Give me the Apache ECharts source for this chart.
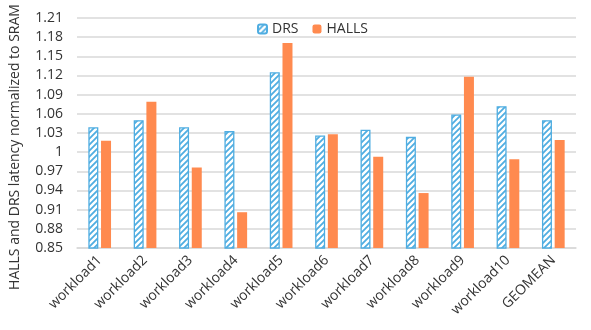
<!DOCTYPE html>
<html>
<head>
<meta charset="utf-8">
<script src="https://cdn.jsdelivr.net/npm/echarts@6/dist/echarts.min.js"></script>
<style>
  html, body { margin: 0; padding: 0; background: #fff; }
  #chart { width: 591px; height: 330px; }
</style>
</head>
<body>
<div id="chart"></div>
<script>
const categories = ['workload1', 'workload2', 'workload3', 'workload4', 'workload5', 'workload6',
  'workload7', 'workload8', 'workload9', 'workload10', 'GEOMEAN']
const drs = [1.039, 1.050, 1.039, 1.033, 1.125, 1.026, 1.035, 1.024, 1.059, 1.072, 1.050]
const halls = [1.018, 1.079, 0.976, 0.906, 1.171, 1.028, 0.993, 0.936, 1.118, 0.989, 1.019]
const yMin = 0.85
const yMax = 1.21
const yStep = 0.03

const blue = '#4FADE1'
const orange = '#FF8A4F'

// diagonal hatch for DRS bars
const makeHatch = () => {
  const c = document.createElement('canvas')
  c.width = 6
  c.height = 6
  const g = c.getContext('2d')
  g.fillStyle = '#fff'
  g.fillRect(0, 0, 6, 6)
  g.strokeStyle = blue
  g.lineWidth = 1.8
  g.beginPath()
  g.moveTo(-1, 7); g.lineTo(7, -1)
  g.moveTo(-1, 1); g.lineTo(1, -1)
  g.moveTo(5, 7); g.lineTo(7, 5)
  g.stroke()
  return c
}

const isMajor = v => Math.round((v - yMin) * 100) % Math.round(yStep * 100) === 0

const chart = echarts.init(document.getElementById('chart'))
chart.setOption({
  animation: false,
  textStyle: { fontFamily: 'Open Sans' },
  legend: {
    top: 17,
    left: 252,
    itemWidth: 9,
    itemHeight: 9,
    itemGap: 14,
    textStyle: { fontSize: 14, color: '#333' },
    data: ['DRS', 'HALLS']
  },
  grid: { left: 77, right: 15, top: 18, bottom: 82 },
  xAxis: {
    type: 'category',
    data: categories,
    axisLine: { lineStyle: { color: '#d9d9d9', width: 1.5 } },
    axisTick: { show: false },
    axisLabel: { rotate: 45, fontSize: 14, color: '#333', margin: 10 }
  },
  yAxis: {
    type: 'value',
    min: yMin,
    max: yMax,
    interval: 0.01,
    name: 'HALLS and DRS latency normalized to SRAM',
    nameLocation: 'middle',
    nameGap: 55,
    nameTextStyle: { fontSize: 14, color: '#333', padding: [0, 28, 0, 0] },
    axisLine: { show: false },
    axisTick: { show: false },
    axisLabel: {
      fontSize: 14,
      color: '#333',
      margin: 14,
      formatter: v => isMajor(v) ? String(Number(v.toFixed(2))) : ''
    },
    splitLine: {
      lineStyle: { color: ['#d9d9d9', 'rgba(0,0,0,0)', 'rgba(0,0,0,0)'], width: 1.5 }
    }
  },
  series: [
    {
      name: 'DRS',
      type: 'bar',
      data: drs,
      barWidth: 10,
      barGap: '27%',
      itemStyle: {
        color: { image: makeHatch(), repeat: 'repeat' },
        borderColor: blue,
        borderWidth: 1.3
      }
    },
    {
      name: 'HALLS',
      type: 'bar',
      data: halls,
      barWidth: 10,
      itemStyle: { color: orange }
    }
  ]
})
</script>
</body>
</html>
